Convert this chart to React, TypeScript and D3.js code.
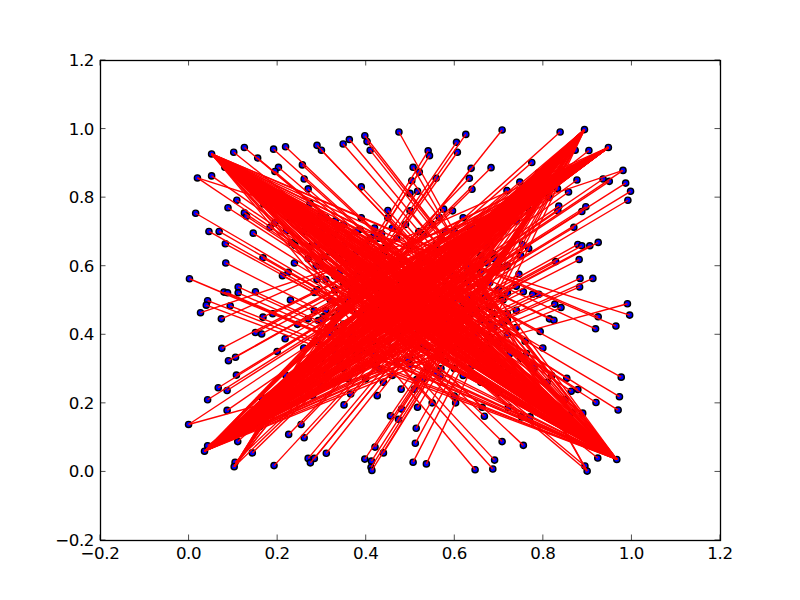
import React from "react";
import * as d3 from "d3";

const pointX = [
.052,.102,.126,.156,.192,.219,.290,.300,.349,.363,.398,.403,.410,.475,.257,.203,.195,.082,.052,.020,.261,.270,.390,.450,.274,.109,.089,.016,.126,.131,.298,.331,.184,.195,.221,.387,.419,.436,.046,.069,.146,.083,.233,.168,.084,.239,.288,.212,.225,.002,.080,.088,.112,.112,.151,.284,.273,.331,.307,
.043,.040,.094,.027,.074,.168,.284,.304,.246,.270,.293,.151,.165,.218,.075,.090,.106,.108,.067,.087,.043,.087,.000,.165,.366,.426,.351,.456,.481,.474,.254,.226,.261,.043,.036,.111,.105,.103,.144,.193,.270,.284,.275,.311,.398,.413,.412,.414,.421,.440,
.708,.626,.605,.607,.541,.544,.507,.521,.638,.683,.559,.634,.640,.504,.517,.500,.576,.596,.566,.775,.839,.894,.873,.904,.948,.981,.936,.950,.987,.998,.992,.877,.748,.858,.719,.833,.814,.836,.834,.897,.888,.870,.925,.879,.888,.906,.882,.829,.768,.754,.746,.884,.913,.883,.756,.777,.791,.827,.841,.991,.686,.672,.674,.691,.703,.714,.636,
.996,.925,.965,.919,.815,.825,.794,.977,.854,.879,.864,.973,.920,.970,.866,.924,.967,.895,.900,.756,.708,.691,.687,.647,.668,.663,.603,.517,.514,.512,.507,.537,.722,.771,.752,.726,.763,.700,.568,.558,.530,.674,.658,.515,
.34,.37,.40,.44,.47,.52,.56,.60,.63,.66,.36,.40,.44,.48,.52,.56,.60,.64,.68,.72,.33,.37,.41,.45,.49,.53,.57,.61,.65,.69,.38,.42,.46,.50,.54,.58,.62,.44,.48,.35,.40,.33,.31,.29,.74,.72,.70,.66,.60,.55,.35,.39,.45,.50,.55,.60,.65,.31,.28,.25,.30,.22,.20,.23,.19,.78,.80,.82,.76,.70,.633,.708,.597,.708,.416,.529,.495,
.12,.16,.19,.17,.22,.25,.23,.28,.26,.30,.33,.29,.32,.35,.38,.36,.34,.40,.38,.42,.44,.41,.46,.43,.47,
.86,.82,.84,.79,.80,.76,.73,.77,.70,.74,.67,.71,.64,.68,.62,.66,.59,.63,.57,.61,.55,.58,.53,.56,.52,
.90,.87,.89,.84,.82,.85,.79,.77,.81,.74,.78,.72,.75,.69,.72,.66,.68,.63,.65,.60,.62,.58,.59,.55,.53,
.10,.13,.16,.15,.19,.18,.22,.21,.25,.24,.28,.27,.31,.30,.34,.33,.36,.39,.37,.41,.43,.40,.45,.47,.43,
.24,.27,.30,.33,.36,.31,.38,.41,.44,.47,.43,
.58,.62,.56,.53,.50,.69,.72,.75,.66,.63,.60,
.76,.72,.68,.65,.62,.74,.60,.57,.54,.51,.60,.64,
.26,.29,.32,.35,.38,.36,.39,.42,.45,.48,.33,.28,
.29,.31,.33,.32,.34,.30,.33,.35,
.68,.70,.67,.71,.69,.66,.72,.74,
.43,.46,.50,.53,.57,.42,.49,
.43,.46,.50,.53,.57,.47,.51,
];
const pointY = [
.926,.931,.945,.914,.940,.947,.951,.937,.955,.968,.979,.962,.937,.990,.894,.887,.875,.887,.862,.856,.853,.824,.830,.761,.782,.791,.769,.753,.754,.744,.745,.731,.712,.725,.702,.706,.689,.694,.700,.700,.695,.664,.667,.623,.608,.608,.599,.571,.581,.562,.523,.521,.538,.521,.524,.522,.655,.646,.626,
.498,.485,.483,.463,.445,.450,.469,.451,.429,.445,.440,.405,.401,.387,.359,.323,.333,.281,.244,.236,.209,.178,.137,.216,.226,.221,.194,.162,.182,.152,.137,.108,.098,.075,.059,.087,.027,.014,.054,.017,.038,.038,.025,.053,.036,.030,.012,.003,.071,.054,
.996,.983,.960,.931,.935,.921,.887,.873,.884,.886,.855,.855,.823,.848,.817,.811,.765,.760,.741,.901,.990,.997,.937,.936,.945,.878,.853,.846,.841,.817,.791,.850,.844,.815,.819,.825,.800,.774,.760,.772,.758,.712,.668,.662,.658,.658,.618,.612,.650,.662,.575,.563,.563,.538,.524,.517,.517,.488,.478,.489,.636,.657,.608,.626,.595,.597,.709,
.456,.451,.424,.416,.445,.441,.408,.275,.272,.239,.234,.218,.201,.179,.171,.039,.035,.016,.001,.076,.087,.033,.007,.005,.161,.187,.200,.187,.126,.082,.027,.022,.187,.159,.159,.344,.344,.374,.278,.288,.371,.359,.330,.268,
.58,.62,.66,.63,.68,.70,.66,.63,.58,.54,.50,.54,.50,.55,.58,.53,.50,.46,.48,.52,.42,.40,.44,.41,.46,.43,.40,.37,.40,.42,.34,.31,.36,.33,.30,.32,.28,.26,.24,.30,.27,.35,.47,.56,.47,.40,.30,.26,.22,.20,.72,.74,.74,.76,.72,.70,.68,.67,.33,.30,.25,.28,.35,.50,.46,.30,.36,.28,.22,.23,.509,.505,.57,.433,.38,.372,.328,
.87,.84,.81,.78,.79,.76,.74,.73,.70,.70,.69,.66,.64,.66,.64,.61,.62,.60,.57,.58,.56,.55,.53,.52,.50,
.93,.90,.87,.87,.82,.81,.79,.76,.76,.73,.73,.70,.71,.67,.66,.63,.62,.60,.60,.56,.57,.54,.55,.51,.52,
.10,.13,.17,.15,.19,.21,.21,.25,.26,.26,.31,.29,.33,.33,.36,.35,.39,.38,.42,.41,.45,.44,.47,.46,.48,
.12,.15,.13,.18,.17,.21,.20,.24,.23,.27,.26,.30,.29,.33,.32,.37,.36,.35,.42,.39,.42,.46,.44,.47,.47,
.66,.62,.60,.57,.54,.74,.70,.68,.65,.61,.60,
.70,.74,.64,.61,.58,.62,.60,.63,.58,.55,.53,
.38,.44,.43,.47,.49,.42,.36,.34,.36,.40,.30,.31,
.36,.38,.40,.43,.46,.27,.30,.34,.38,.41,.26,.22,
.53,.56,.53,.50,.47,.44,.45,.55,
.55,.53,.51,.50,.46,.44,.46,.54,
.68,.71,.66,.69,.68,.71,.72,
.30,.28,.31,.27,.30,.32,.24,
];
const xTickValues = [-0.2, 0, 0.2, 0.4, 0.6, 0.8, 1.0, 1.2];
const yTickValues = [-0.2, 0, 0.2, 0.4, 0.6, 0.8, 1.0, 1.2];

const fmt = (v: number) => v.toFixed(1).replace("-", "\u2212");

export default function App() {
  const x = d3.scaleLinear().domain([-0.2, 1.2]).range([100, 720]);
  const y = d3.scaleLinear().domain([-0.2, 1.2]).range([540, 60]);
  const pts = pointX.map((px, i) => ({ px, py: pointY[i] }));
  // each point is joined to the point lying farthest from it
  const links = pts.map((p) => {
    const far = d3.greatest(pts, (q) => (q.px - p.px) ** 2 + (q.py - p.py) ** 2)!;
    return [p, far];
  });
  const line = d3.line<{ px: number; py: number }>().x((d) => x(d.px)).y((d) => y(d.py));
  const font = "'DejaVu Sans', sans-serif";
  return (
    <svg width={800} height={600} style={{ position: "absolute", left: 0, top: 0, background: "#fff" }}>
      <g>
        {pts.map((p, i) => (
          <circle key={i} cx={x(p.px)} cy={y(p.py)} r={3.1} fill="#0000ff" stroke="#000" strokeWidth={1.39} />
        ))}
      </g>
      <g>
        {links.map((l, i) => (
          <path key={i} d={line(l)!} fill="none" stroke="#ff0000" strokeWidth={1.39} />
        ))}
      </g>
      <rect x={100.5} y={60.5} width={620} height={480} fill="none" stroke="#000" strokeWidth={1.3} />
      {xTickValues.map((t) => (
        <g key={t}>
          <line x1={x(t)} x2={x(t)} y1={540} y2={534.5} stroke="#000" strokeWidth={0.7} />
          <line x1={x(t)} x2={x(t)} y1={60} y2={65.5} stroke="#000" strokeWidth={0.7} />
          <text x={x(t)} y={559} textAnchor="middle" fontFamily={font} fontSize={16.67} letterSpacing={-0.4}>{fmt(t)}</text>
        </g>
      ))}
      {yTickValues.map((t) => (
        <g key={t}>
          <line x1={100} x2={105.5} y1={y(t)} y2={y(t)} stroke="#000" strokeWidth={0.7} />
          <line x1={720} x2={714.5} y1={y(t)} y2={y(t)} stroke="#000" strokeWidth={0.7} />
          <text x={94} y={y(t) + 6} textAnchor="end" fontFamily={font} fontSize={16.67} letterSpacing={-0.4}>{fmt(t)}</text>
        </g>
      ))}
    </svg>
  );
}
